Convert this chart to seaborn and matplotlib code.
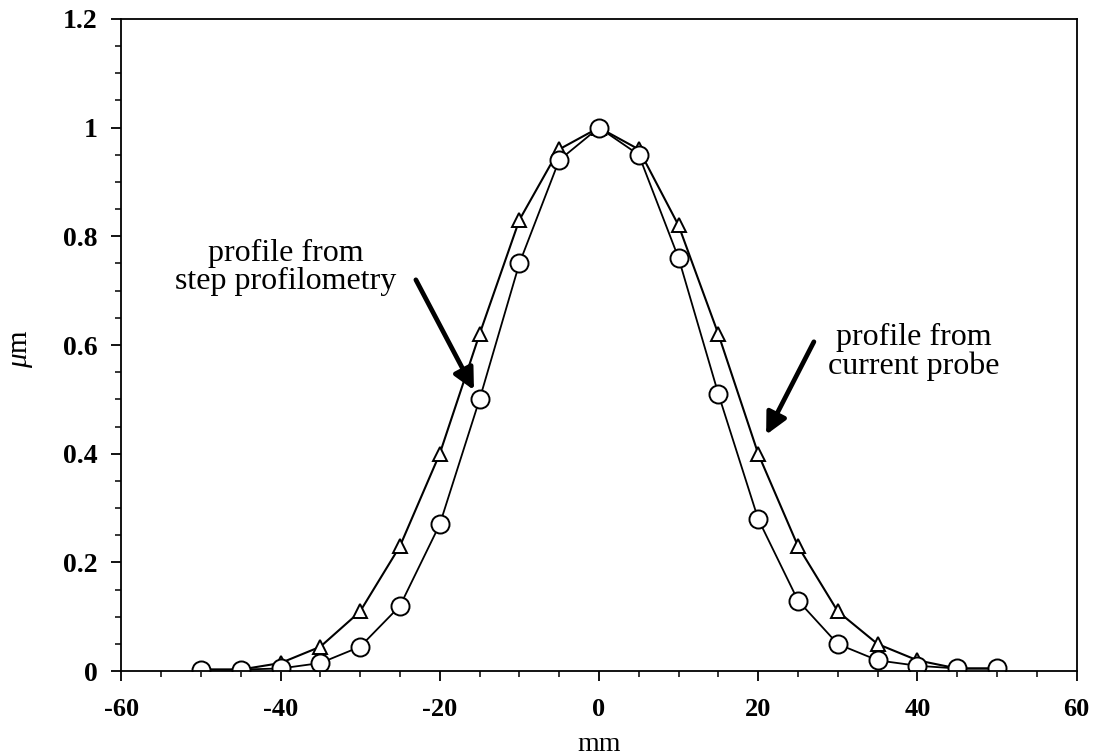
import matplotlib
matplotlib.use("Agg")
import matplotlib.pyplot as plt
from matplotlib.ticker import MultipleLocator
import seaborn as sns
import pandas as pd

x_mm = [-50, -45, -40, -35, -30, -25, -20, -15, -10, -5, 0, 5, 10, 15, 20, 25, 30, 35, 40, 45, 50]
step_profilometry = [0.003, 0.003, 0.005, 0.015, 0.045, 0.12, 0.27, 0.50, 0.75, 0.94, 1.0,
                     0.95, 0.76, 0.51, 0.28, 0.13, 0.05, 0.02, 0.01, 0.005, 0.005]
current_probe = [0.003, 0.003, 0.015, 0.045, 0.11, 0.23, 0.40, 0.62, 0.83, 0.96, 1.0,
                 0.96, 0.82, 0.62, 0.40, 0.23, 0.11, 0.05, 0.02, 0.005, 0.005]

x_ticks = [-60, -40, -20, 0, 20, 40, 60]
y_ticks = [0, 0.2, 0.4, 0.6, 0.8, 1.0, 1.2]
y_tick_labels = ["0", "0.2", "0.4", "0.6", "0.8", "1", "1.2"]

sns.set_theme(style="ticks")
plt.rcParams["font.family"] = ["Liberation Serif", "DejaVu Serif"]
plt.rcParams["text.color"] = "black"
plt.rcParams["axes.labelcolor"] = "black"
plt.rcParams["xtick.color"] = "black"
plt.rcParams["ytick.color"] = "black"
plt.rcParams["mathtext.fontset"] = "custom"
plt.rcParams["mathtext.it"] = "Liberation Serif:italic"
plt.rcParams["mathtext.rm"] = "Liberation Serif"

fig = plt.figure(figsize=(10.93, 7.55), dpi=100)
ax = fig.add_axes([0.111, 0.111, 0.874, 0.864])

df_step = pd.DataFrame({"x": x_mm, "y": step_profilometry})
df_probe = pd.DataFrame({"x": x_mm, "y": current_probe})

sns.lineplot(data=df_probe, x="x", y="y", ax=ax, color="black", lw=1.5,
             marker="^", markersize=10.5, markerfacecolor="white",
             markeredgecolor="black", markeredgewidth=1.4, sort=True)
sns.lineplot(data=df_step, x="x", y="y", ax=ax, color="black", lw=1.3,
             marker="o", markersize=13, markerfacecolor="white",
             markeredgecolor="black", markeredgewidth=1.4, sort=True)

ax.set_xlim(-60, 60)
ax.set_ylim(0, 1.2)
ax.set_xticks(x_ticks)
ax.set_xticklabels([str(v) for v in x_ticks])
ax.set_yticks(y_ticks)
ax.set_yticklabels(y_tick_labels)
ax.xaxis.set_minor_locator(MultipleLocator(5))
ax.yaxis.set_minor_locator(MultipleLocator(0.05))
ax.tick_params(which="major", direction="out", length=7, width=1.3)
ax.tick_params(axis="x", which="major", labelsize=19, pad=12)
ax.tick_params(axis="y", which="major", labelsize=20, pad=10)
ax.tick_params(which="minor", direction="out", length=4, width=1.1)
for lab in ax.get_xticklabels() + ax.get_yticklabels():
    lab.set_fontweight("bold")
for s in ax.spines.values():
    s.set_linewidth(1.3)
    s.set_color("black")

ax.set_xlabel("mm", fontsize=20, labelpad=8)
ax.set_ylabel(r"$\mu$m", fontsize=21)
ax.yaxis.set_label_coords(-0.090, 0.495)

ax.text(-39.4, 0.743, "profile from\nstep profilometry", fontsize=23,
        ha="center", va="center", linespacing=0.95)
ax.annotate("", xy=(-15.7, 0.517), xytext=(-23.0, 0.72),
            arrowprops=dict(arrowstyle="-|>", color="black", lw=3.4,
                            mutation_scale=32, shrinkA=0, shrinkB=0))
ax.text(39.6, 0.587, "profile from\ncurrent probe", fontsize=23,
        ha="center", va="center", linespacing=0.95)
ax.annotate("", xy=(21.0, 0.435), xytext=(27.0, 0.606),
            arrowprops=dict(arrowstyle="-|>", color="black", lw=3.4,
                            mutation_scale=32, shrinkA=0, shrinkB=0))

fig.savefig("out.png", dpi=100)
